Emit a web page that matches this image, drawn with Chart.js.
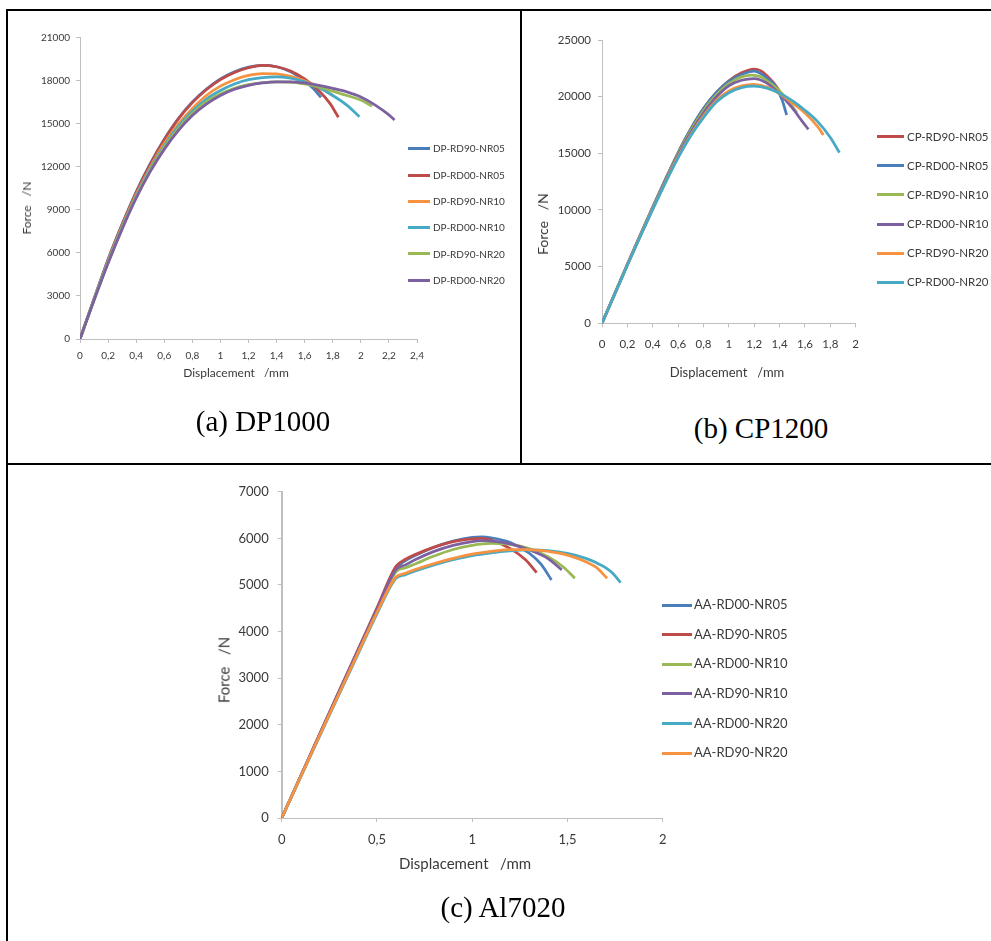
<!DOCTYPE html>
<html>
<head>
<meta charset="utf-8">
<script src="https://cdn.jsdelivr.net/npm/chart.js@4.4.1/dist/chart.umd.min.js"></script>
<style>
  html, body { margin: 0; padding: 0; background: #fff; }
  body { width: 991px; height: 941px; position: relative; overflow: hidden; font-family: Lato, sans-serif; color: #3a3a3a; }
  .rule { position: absolute; background: #000; }
  canvas { position: absolute; }
  .caption { position: absolute; font-family: 'Liberation Serif', 'Times New Roman', serif; font-size: 29px; line-height: 29px; color: #000; white-space: nowrap; transform: translateX(-50%); }
  .atitle { position: absolute; white-space: pre; line-height: 1; transform: translate(-50%, -50%); }
  .atitle.rot { transform: translate(-50%, -50%) rotate(-90deg); }
  .lg-line { position: absolute; height: 3px; }
  .lg-text { position: absolute; white-space: nowrap; }
</style>
</head>
<body>
<div class="rule" style="left:6px;top:9px;width:985px;height:2px"></div>
<div class="rule" style="left:6px;top:9px;width:2px;height:932px"></div>
<div class="rule" style="left:520px;top:9px;width:2px;height:456px"></div>
<div class="rule" style="left:6px;top:463px;width:985px;height:2px"></div>

<canvas id="dp" width="480" height="400" style="left:10px;top:12px"></canvas>
<canvas id="cp" width="400" height="400" style="left:530px;top:12px"></canvas>
<canvas id="aa" width="520" height="400" style="left:180px;top:470px"></canvas>

<div class="atitle" style="left:236px;top:373px;font-size:12px">Displacement   /mm</div>
<div class="atitle rot" style="left:27px;top:208px;font-size:12px">Force   /N</div>
<div class="atitle" style="left:727px;top:372px;font-size:13px">Displacement   /mm</div>
<div class="atitle rot" style="left:543px;top:224px;font-size:14px">Force   /N</div>
<div class="atitle" style="left:465px;top:863px;font-size:15px">Displacement   /mm</div>
<div class="atitle rot" style="left:224px;top:670px;font-size:15px">Force   /N</div>

<div class="caption" style="left:263px;top:407px">(a) DP1000</div>
<div class="caption" style="left:761px;top:414px">(b) CP1200</div>
<div class="caption" style="left:503px;top:893px">(c) Al7020</div>

<script>
// ---- DP1000 ----
const dpLabels = ['DP-RD90-NR05', 'DP-RD00-NR05', 'DP-RD90-NR10', 'DP-RD00-NR10', 'DP-RD90-NR20', 'DP-RD00-NR20'];
const dpXTicks = [0, 0.2, 0.4, 0.6, 0.8, 1, 1.2, 1.4, 1.6, 1.8, 2, 2.2, 2.4];
const dpYTicks = [0, 3000, 6000, 9000, 12000, 15000, 18000, 21000];
const dpRD90NR05 = [[0,0],[0.1,2800],[0.2,5550],[0.3,8000],[0.4,10250],[0.5,12200],[0.6,13900],[0.7,15350],[0.8,16500],[0.9,17400],[1.0,18100],[1.1,18600],[1.2,18920],[1.3,19050],[1.4,18950],[1.5,18600],[1.6,17950],[1.66,17450],[1.716,16820]];
const dpRD00NR05 = [[0,0],[0.1,2780],[0.2,5500],[0.3,7950],[0.4,10200],[0.5,12150],[0.6,13850],[0.7,15300],[0.8,16450],[0.9,17350],[1.0,18050],[1.1,18550],[1.2,18880],[1.3,19050],[1.4,18950],[1.5,18650],[1.6,18100],[1.7,17300],[1.78,16400],[1.84,15430]];
const dpRD90NR10 = [[0,0],[0.1,2760],[0.2,5420],[0.3,7850],[0.4,10050],[0.5,11950],[0.6,13600],[0.7,14950],[0.8,16050],[0.9,16950],[1.0,17600],[1.1,18050],[1.2,18350],[1.3,18480],[1.4,18450],[1.5,18280],[1.6,17980],[1.7,17550],[1.8,16950]];
const dpRD00NR10 = [[0,0],[0.1,2740],[0.2,5370],[0.3,7780],[0.4,9950],[0.5,11850],[0.6,13450],[0.7,14800],[0.8,15850],[0.9,16700],[1.0,17300],[1.1,17750],[1.2,18050],[1.3,18200],[1.4,18250],[1.5,18150],[1.6,17900],[1.7,17500],[1.8,16950],[1.9,16280],[1.99,15470]];
const dpRD90NR20 = [[0,0],[0.1,2720],[0.2,5330],[0.3,7720],[0.4,9880],[0.5,11750],[0.6,13350],[0.7,14650],[0.8,15700],[0.9,16500],[1.0,17050],[1.1,17450],[1.2,17700],[1.3,17850],[1.4,17900],[1.5,17880],[1.6,17750],[1.7,17550],[1.8,17250],[1.9,16950],[2.0,16630],[2.08,16210]];
const dpRD00NR20 = [[0,0],[0.1,2700],[0.2,5280],[0.3,7650],[0.4,9800],[0.5,11650],[0.6,13200],[0.7,14500],[0.8,15550],[0.9,16350],[1.0,16950],[1.1,17380],[1.2,17650],[1.3,17820],[1.4,17900],[1.5,17900],[1.6,17820],[1.7,17660],[1.8,17450],[1.9,17200],[2.0,16850],[2.1,16300],[2.2,15600],[2.24,15240]];

// ---- CP1200 ----
const cpLabels = ['CP-RD90-NR05', 'CP-RD00-NR05', 'CP-RD90-NR10', 'CP-RD00-NR10', 'CP-RD90-NR20', 'CP-RD00-NR20'];
const cpXTicks = [0, 0.2, 0.4, 0.6, 0.8, 1, 1.2, 1.4, 1.6, 1.8, 2];
const cpYTicks = [0, 5000, 10000, 15000, 20000, 25000];
const cpRD90NR05 = [[0,0],[0.1,2600],[0.2,5200],[0.3,7750],[0.4,10250],[0.5,12700],[0.6,15050],[0.7,17150],[0.8,18950],[0.9,20350],[1.0,21400],[1.1,22100],[1.2,22430],[1.25,22300],[1.3,21850],[1.35,21250],[1.4,20500]];
const cpRD00NR05 = [[0,0],[0.1,2600],[0.2,5200],[0.3,7750],[0.4,10250],[0.5,12700],[0.6,15050],[0.7,17150],[0.8,18950],[0.9,20350],[1.0,21350],[1.1,21950],[1.2,22250],[1.25,22050],[1.3,21650],[1.37,20880],[1.42,19700],[1.456,18380]];
const cpRD90NR10 = [[0,0],[0.1,2590],[0.2,5180],[0.3,7720],[0.4,10200],[0.5,12620],[0.6,14950],[0.7,17000],[0.8,18750],[0.9,20150],[1.0,21150],[1.1,21750],[1.18,21900],[1.25,21750],[1.3,21400],[1.4,20500],[1.5,19150],[1.535,18580]];
const cpRD00NR10 = [[0,0],[0.1,2580],[0.2,5160],[0.3,7700],[0.4,10150],[0.5,12550],[0.6,14850],[0.7,16850],[0.8,18550],[0.9,19950],[1.0,20950],[1.1,21450],[1.2,21600],[1.3,21200],[1.4,20250],[1.5,19000],[1.58,17800],[1.627,17120]];
const cpRD90NR20 = [[0,0],[0.1,2570],[0.2,5140],[0.3,7650],[0.4,10100],[0.5,12450],[0.6,14700],[0.7,16650],[0.8,18300],[0.9,19650],[1.0,20500],[1.1,20950],[1.2,21080],[1.3,20850],[1.4,20250],[1.5,19450],[1.6,18550],[1.7,17350],[1.745,16620]];
const cpRD00NR20 = [[0,0],[0.1,2560],[0.2,5120],[0.3,7620],[0.4,10050],[0.5,12400],[0.6,14600],[0.7,16550],[0.8,18150],[0.9,19500],[1.0,20350],[1.1,20800],[1.2,20920],[1.3,20750],[1.4,20300],[1.5,19650],[1.6,18800],[1.7,17800],[1.8,16400],[1.872,15060]];

// ---- Al7020 ----
const aaLabels = ['AA-RD00-NR05', 'AA-RD90-NR05', 'AA-RD00-NR10', 'AA-RD90-NR10', 'AA-RD00-NR20', 'AA-RD90-NR20'];
const aaXTicks = [0, 0.5, 1, 1.5, 2];
const aaYTicks = [0, 1000, 2000, 3000, 4000, 5000, 6000, 7000];
const aaRD00NR05 = [[0,0],[0.1,900],[0.2,1800],[0.3,2700],[0.4,3590],[0.5,4480],[0.6,5360],[0.65,5520],[0.7,5630],[0.8,5810],[0.9,5940],[1.0,6020],[1.05,6030],[1.1,6010],[1.2,5910],[1.3,5680],[1.36,5450],[1.416,5107]];
const aaRD90NR05 = [[0,0],[0.1,905],[0.2,1810],[0.3,2710],[0.4,3610],[0.5,4510],[0.6,5400],[0.65,5550],[0.7,5650],[0.8,5810],[0.9,5930],[1.0,5990],[1.05,6000],[1.1,5960],[1.2,5780],[1.28,5540],[1.338,5264]];
const aaRD00NR10 = [[0,0],[0.1,895],[0.2,1790],[0.3,2680],[0.4,3570],[0.5,4450],[0.6,5280],[0.65,5370],[0.7,5450],[0.8,5620],[0.9,5760],[1.0,5850],[1.1,5890],[1.2,5870],[1.3,5780],[1.4,5600],[1.48,5380],[1.539,5144]];
const aaRD90NR10 = [[0,0],[0.1,900],[0.2,1800],[0.3,2700],[0.4,3590],[0.5,4480],[0.6,5330],[0.65,5430],[0.7,5540],[0.8,5720],[0.9,5850],[1.0,5930],[1.05,5950],[1.1,5940],[1.2,5880],[1.3,5750],[1.4,5560],[1.47,5322]];
const aaRD00NR20 = [[0,0],[0.1,880],[0.2,1760],[0.3,2640],[0.4,3510],[0.5,4380],[0.6,5140],[0.65,5220],[0.7,5300],[0.8,5430],[0.9,5540],[1.0,5630],[1.1,5690],[1.2,5730],[1.3,5750],[1.4,5735],[1.5,5675],[1.6,5565],[1.65,5480],[1.7,5370],[1.74,5240],[1.779,5049]];
const aaRD90NR20 = [[0,0],[0.1,890],[0.2,1780],[0.3,2660],[0.4,3540],[0.5,4410],[0.6,5170],[0.65,5250],[0.7,5330],[0.8,5460],[0.9,5570],[1.0,5660],[1.1,5720],[1.2,5760],[1.3,5760],[1.4,5720],[1.5,5640],[1.6,5490],[1.65,5380],[1.708,5144]];

const BLUE = '#4a7ebb', RED = '#be4b48', GREEN = '#98b954', PURPLE = '#7d60a0', CYAN = '#46aac5', ORANGE = '#f69240';
const AXIS = '#bfbfbf', TEXT = '#3a3a3a';

function fmt(v) {
    return String(Math.round(v * 10) / 10).replace('.', ',');
}

function makeChart(id, labels, series, colors, xTicks, yTicks, o) {
    const ctx = document.getElementById(id).getContext('2d');
    const n = series.length;
    return new Chart(ctx, {
        type: 'scatter',
        data: {
            datasets: series.map((s, i) => ({
                label: labels[i],
                data: s.map(p => ({ x: p[0], y: p[1] })),
                borderColor: colors[i],
                backgroundColor: colors[i],
                borderWidth: 2.75,
                showLine: true,
                pointRadius: 0,
                pointHoverRadius: 0,
                cubicInterpolationMode: 'monotone',
                fill: false,
                order: n - i
            }))
        },
        options: {
            responsive: false,
            animation: false,
            events: [],
            layout: { padding: { left: 0, top: o.padTop, right: o.padRight, bottom: 0 } },
            plugins: { legend: { display: false }, tooltip: { enabled: false } },
            scales: {
                x: {
                    type: 'linear',
                    min: xTicks[0],
                    max: xTicks[xTicks.length - 1],
                    afterBuildTicks: s => { s.ticks = xTicks.map(v => ({ value: v })); },
                    afterFit: s => { s.height = o.xHeight; },
                    border: { color: AXIS, width: 1 },
                    grid: { drawOnChartArea: false, drawTicks: true, tickLength: 4, color: AXIS },
                    ticks: { autoSkip: false, maxRotation: 0, padding: o.xPad, color: TEXT,
                             font: { family: 'Lato', size: o.fs }, callback: v => fmt(v) }
                },
                y: {
                    type: 'linear',
                    min: yTicks[0],
                    max: yTicks[yTicks.length - 1],
                    afterBuildTicks: s => { s.ticks = yTicks.map(v => ({ value: v })); },
                    afterFit: s => { s.width = o.yWidth; },
                    border: { color: AXIS, width: o.yBorder || 1 },
                    grid: { drawOnChartArea: false, drawTicks: true, tickLength: 4, color: AXIS },
                    ticks: { autoSkip: false, padding: o.yPad, color: TEXT,
                             font: { family: 'Lato', size: o.fs }, callback: v => String(v) }
                }
            }
        }
    });
}

function makeLegend(labels, colors, o) {
    labels.forEach((lab, i) => {
        const y = o.y0 + i * o.step;
        const line = document.createElement('div');
        line.className = 'lg-line';
        line.style.left = o.x1 + 'px';
        line.style.width = (o.x2 - o.x1) + 'px';
        line.style.top = (y - 1.5) + 'px';
        line.style.background = colors[i];
        document.body.appendChild(line);
        const t = document.createElement('div');
        t.className = 'lg-text';
        t.textContent = lab;
        t.style.left = o.tx + 'px';
        t.style.top = (y - o.fs * 0.53) + 'px';
        t.style.fontSize = o.fs + 'px';
        t.style.lineHeight = o.fs + 'px';
        document.body.appendChild(t);
    });
}

const dpColors = [BLUE, RED, ORANGE, CYAN, GREEN, PURPLE];
const cpColors = [RED, BLUE, GREEN, PURPLE, ORANGE, CYAN];
const aaColors = [BLUE, RED, GREEN, PURPLE, CYAN, ORANGE];

makeChart('dp', dpLabels, [dpRD90NR05, dpRD00NR05, dpRD90NR10, dpRD00NR10, dpRD90NR20, dpRD00NR20], dpColors,
    dpXTicks, dpYTicks, { yWidth: 70, padTop: 25.3, padRight: 73, xHeight: 73, fs: 10, xPad: 6.7, yPad: 6 });
makeChart('cp', cpLabels, [cpRD90NR05, cpRD00NR05, cpRD90NR10, cpRD00NR10, cpRD90NR20, cpRD00NR20], cpColors,
    cpXTicks, cpYTicks, { yWidth: 72, padTop: 28, padRight: 74.3, xHeight: 88.7, fs: 11.5, xPad: 10, yPad: 7 });
makeChart('aa', aaLabels, [aaRD00NR05, aaRD90NR05, aaRD00NR10, aaRD90NR10, aaRD00NR20, aaRD90NR20], aaColors,
    aaXTicks, aaYTicks, { yWidth: 101.7, padTop: 21.7, padRight: 37.3, xHeight: 52, fs: 13, xPad: 10, yPad: 9, yBorder: 2 });

makeLegend(dpLabels, dpColors, { x1: 408, x2: 430, tx: 433, y0: 148.7, step: 26.3, fs: 10 });
makeLegend(cpLabels, cpColors, { x1: 877, x2: 904, tx: 907, y0: 136.7, step: 29.1, fs: 11.5 });
makeLegend(aaLabels, aaColors, { x1: 662, x2: 692, tx: 694, y0: 605, step: 29.6, fs: 13 });
</script>
</body>
</html>
